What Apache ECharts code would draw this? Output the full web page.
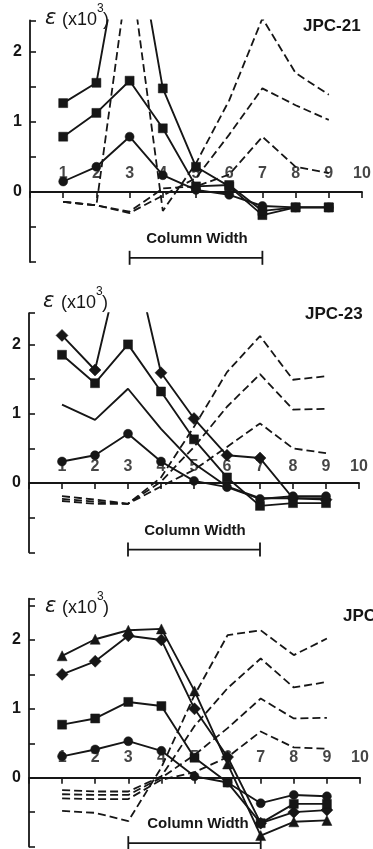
<!DOCTYPE html>
<html><head><meta charset="utf-8">
<script src="https://cdn.jsdelivr.net/npm/echarts@6/dist/echarts.min.js"></script>
<style>html,body{margin:0;padding:0;background:#fff}#c{width:373px;height:849px}</style>
</head><body><div id="c"></div>
<script>
// x positions (measurement points)
const X = [1,2,3,4,5,6,7,8,9];
const xTicks = [1,2,3,4,5,6,7,8,9,10];
const yTickLabels = [0,1,2];
const titles = ['JPC-21','JPC-23','JPC-2'];
const unitLabel = 'ε', unitText = '(x10', unitSup = '3', unitClose = ')';
const bracketLabel = 'Column Width';
const bracketSpan = [3,7];

// Panel 1 (JPC-21)
const p1SqHi  = [1.27, 1.56, 4.2, 1.48, 0.36, 0.08, -0.33, -0.22, -0.22];
const p1SqLo  = [0.79, 1.13, 1.59, 0.91, 0.08, 0.10, -0.27, -0.22, -0.22];
const p1Circ  = [0.15, 0.36, 0.79, 0.24, 0.03, -0.04, -0.20, -0.22, -0.22];
const p1D1 = [-0.14, -0.19, 3.3, -0.27, 0.41, 1.31, 2.48, 1.70, 1.39];
const p1D2 = [-0.14, -0.19, -0.30, -0.05, 0.20, 0.82, 1.48, 1.24, 1.03];
const p1D3 = [-0.14, -0.19, -0.28, 0.05, 0.08, 0.25, 0.79, 0.36, 0.27];

// Panel 2 (JPC-23)
const p2Diam  = [2.13, 1.63, 3.65, 1.59, 0.93, 0.40, 0.36, -0.22, -0.24];
const p2Sq    = [1.85, 1.44, 2.00, 1.32, 0.63, 0.08, -0.33, -0.29, -0.29];
const p2Plain = [1.13, 0.91, 1.36, 0.78, 0.28, -0.05, -0.22, -0.22, -0.22];
const p2Circ  = [0.31, 0.40, 0.71, 0.31, 0.03, -0.06, -0.23, -0.19, -0.19];
const p2D1 = [-0.19, -0.24, -0.30, 0.08, 0.81, 1.60, 2.12, 1.49, 1.54];
const p2D2 = [-0.23, -0.27, -0.30, 0.02, 0.52, 1.10, 1.57, 1.06, 1.07];
const p2D3 = [-0.26, -0.30, -0.30, -0.05, 0.19, 0.52, 0.86, 0.50, 0.43];

// Panel 3
const p3Tri  = [1.77, 2.01, 2.14, 2.16, 1.26, 0.20, -0.84, -0.64, -0.62];
const p3Diam = [1.50, 1.69, 2.06, 2.00, 1.00, 0.30, -0.66, -0.50, -0.47];
const p3Sq   = [0.77, 0.86, 1.10, 1.04, 0.29, -0.07, -0.66, -0.38, -0.38];
const p3Circ = [0.31, 0.41, 0.53, 0.39, 0.02, -0.07, -0.37, -0.25, -0.27];
const p3D1 = [-0.48, -0.51, -0.63, 0.15, 1.20, 2.07, 2.14, 1.78, 2.02];
const p3D2 = [-0.18, -0.20, -0.20, 0.02, 0.75, 1.30, 1.73, 1.31, 1.39];
const p3D3 = [-0.24, -0.25, -0.25, 0.00, 0.33, 0.72, 1.15, 0.86, 0.87];
const p3D4 = [-0.30, -0.31, -0.31, -0.03, 0.08, 0.30, 0.67, 0.44, 0.42];

const INK = '#161616';
const FONT = '"Liberation Sans", Arial, Helvetica, sans-serif';
const pts = v => X.map((x,i)=>[x, v[i]]);

function solid(g, vals, sym, size){
  return {type:'line', xAxisIndex:g, yAxisIndex:g, data:pts(vals), symbol:sym||'none', symbolSize:size||8,
    showSymbol: !!sym, clip:true, silent:true, z:3,
    lineStyle:{color:INK, width:1.9}, itemStyle:{color:INK, borderColor:INK, borderWidth:0.5}};
}
function dashed(g, vals){
  return {type:'line', xAxisIndex:g, yAxisIndex:g, data:pts(vals), symbol:'none', clip:true, silent:true, z:2,
    lineStyle:{color:INK, width:1.8, type:[8,4]}};
}
function bracket(g, y){
  return {type:'line', xAxisIndex:g, yAxisIndex:g, data:bracketSpan.map(x=>[x,y]), symbol:'rect',
    symbolSize:[1.8,14], silent:true, clip:false, lineStyle:{color:INK,width:1.8}, itemStyle:{color:INK}};
}
const labelDist = [10, 7.5, 11.5];
function xLabels(g){
  return {type:'scatter', xAxisIndex:g, yAxisIndex:g, data:xTicks.map(x=>[x,0]), symbolSize:1, silent:true, z:1,
    itemStyle:{color:'rgba(0,0,0,0)'},
    label:{show:true, position:'top', distance:labelDist[g], color:INK, fontSize:16, fontWeight:'bold', fontFamily:FONT,
      formatter:p=>String(p.value[0])}};
}

const grids = [
  {left:30, top:20.5, width:332, height:241.5},
  {left:29, top:313.2, width:330, height:239.1},
  {left:29, top:598.6, width:331, height:248}
];
const yMax = [2.45, 2.45, 2.6];

const xAxes = grids.map((g,i)=>({gridIndex:i, type:'value', min:0, max:10, interval:1,
  axisLine:{onZero:true, lineStyle:{color:INK, width:1.8}},
  axisTick:{show:true, inside:false, length:6, lineStyle:{color:INK,width:1.6}},
  axisLabel:{show:false},
  splitLine:{show:false}}));
const yAxes = grids.map((g,i)=>({gridIndex:i, type:'value', min:-1, max:yMax[i], interval:0.5,
  axisLine:{show:true, onZero:false, lineStyle:{color:INK, width:1.8}},
  axisTick:{show:true, inside:true, length:6, lineStyle:{color:INK,width:1.6}},
  axisLabel:{color:INK, fontSize:16, fontWeight:'bold', fontFamily:FONT, margin:8,
    formatter:v=> yTickLabels.includes(Math.round(v*100)/100) ? String(v) : ''},
  splitLine:{show:false}}));

const series = [
  xLabels(0), xLabels(1), xLabels(2),
  dashed(0,p1D1), dashed(0,p1D2), dashed(0,p1D3),
  solid(0,p1SqHi,'rect',9), solid(0,p1SqLo,'rect',9), solid(0,p1Circ,'circle',9),
  bracket(0,-0.94),
  dashed(1,p2D1), dashed(1,p2D2), dashed(1,p2D3),
  solid(1,p2Diam,'diamond',12), solid(1,p2Sq,'rect',9), solid(1,p2Plain,null), solid(1,p2Circ,'circle',9),
  bracket(1,-0.96),
  dashed(2,p3D1), dashed(2,p3D2), dashed(2,p3D3), dashed(2,p3D4),
  solid(2,p3Tri,'triangle',10), solid(2,p3Diam,'diamond',12), solid(2,p3Sq,'rect',9), solid(2,p3Circ,'circle',9),
  bracket(2,-0.95)
];

const heads = [
  {e:[45,8], t:[62,11], s:[97,3], c:[103,11], j:[303,18], cw:[197,239]},
  {e:[43,291], t:[61,294], s:[96,286], c:[102,294], j:[305,306], cw:[195,531]},
  {e:[45,596], t:[62,599], s:[97,591], c:[103,599], j:[343,608], cw:[198,824]}
];
const graphic = [];
heads.forEach((h,i)=>{
  graphic.push({type:'text', x:h.e[0], y:h.e[1], silent:true, style:{text:unitLabel, fill:INK, font:'italic 21px "DejaVu Sans", sans-serif'}});
  graphic.push({type:'text', x:h.t[0], y:h.t[1], silent:true, style:{text:unitText, fill:INK, font:'18px '+FONT}});
  graphic.push({type:'text', x:h.s[0], y:h.s[1], silent:true, style:{text:unitSup, fill:INK, font:'12px '+FONT}});
  graphic.push({type:'text', x:h.c[0], y:h.c[1], silent:true, style:{text:unitClose, fill:INK, font:'18px '+FONT}});
  graphic.push({type:'text', x:h.j[0], y:h.j[1], silent:true, style:{text:titles[i], fill:INK, font:'bold 17px '+FONT}});
  graphic.push({type:'text', x:h.cw[0], y:h.cw[1], silent:true, style:{text:bracketLabel, fill:INK, font:'bold 15px '+FONT, textAlign:'center', textVerticalAlign:'middle'}});
});

const chart = echarts.init(document.getElementById('c'), null, {renderer:'canvas'});
chart.setOption({animation:false, backgroundColor:'#fff', grid:grids, xAxis:xAxes, yAxis:yAxes, series, graphic});
</script></body></html>
